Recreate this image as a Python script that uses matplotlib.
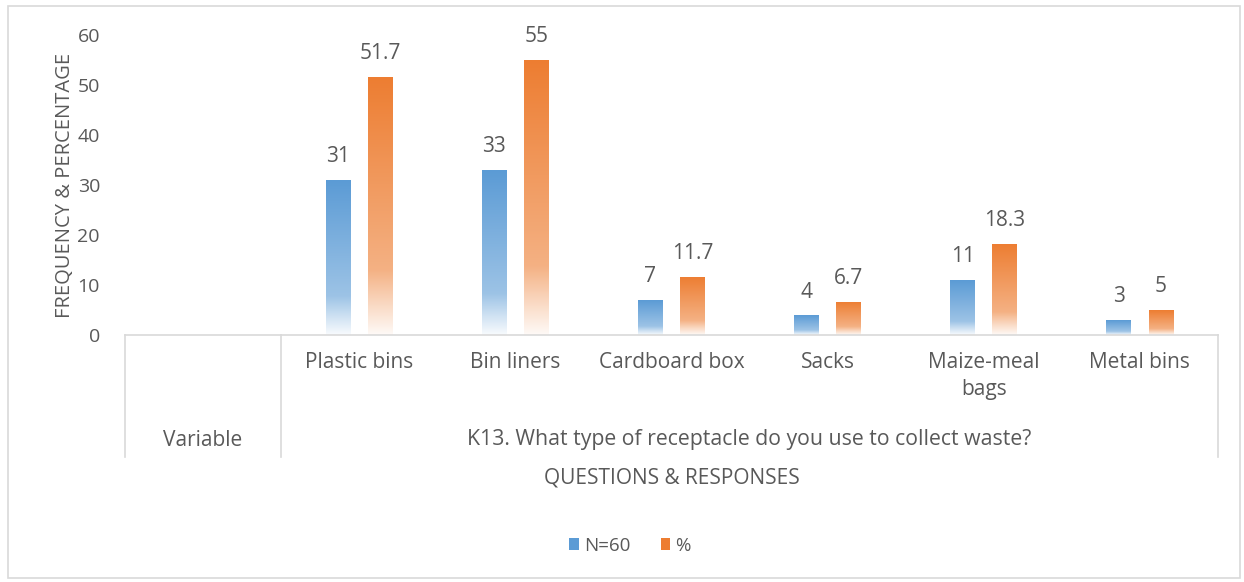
import numpy as np
import matplotlib
matplotlib.use("Agg")
import matplotlib.pyplot as plt
from matplotlib.colors import to_rgb, LinearSegmentedColormap
from matplotlib.patches import Rectangle, Patch

plt.rcParams['font.family'] = ['Open Sans', 'DejaVu Sans']

categories = ["Plastic bins", "Bin liners", "Cardboard box", "Sacks", "Maize-meal\nbags", "Metal bins"]
n_values = [31, 33, 7, 4, 11, 3]
pct_values = [51.7, 55, 11.7, 6.7, 18.3, 5]
labels_n = ["31", "33", "7", "4", "11", "3"]
labels_pct = ["51.7", "55", "11.7", "6.7", "18.3", "5"]
group_labels = ["Variable", "K13. What type of receptacle do you use to collect waste?"]
series_names = ["N=60", "%"]

blue = "#5b9bd5"
orange = "#ed7d31"
txt = "#595959"
line = "#d9d9d9"


def grad_cmap(c):
    r = np.array(to_rgb(c))
    w = np.ones(3)
    stops = [(0.0, 0.04), (0.12, 0.3), (0.25, 0.6), (1.0, 1.0)]
    return LinearSegmentedColormap.from_list(
        "g", [(p, tuple(w + (r - w) * m)) for p, m in stops])


fig = plt.figure(figsize=(12.44, 5.82), dpi=100)
fig.patches.append(Rectangle((8 / 1244, 4 / 582), 1232 / 1244, 572 / 582, transform=fig.transFigure,
                             fill=False, edgecolor=line, lw=1.2))
ax = fig.add_axes([125 / 1244, 247 / 582, 1093 / 1244, 300 / 582])

x = np.arange(1, len(categories) + 1)
w = 0.16
off = 0.135
grad = np.linspace(0, 1, 256).reshape(-1, 1)

for vals, labs, col, sgn in [(n_values, labels_n, blue, -1), (pct_values, labels_pct, orange, 1)]:
    bars = ax.bar(x + sgn * off, vals, width=w, color='none', edgecolor='none')
    cm = grad_cmap(col)
    for b, lab in zip(bars, labs):
        x0, h = b.get_x(), b.get_height()
        im = ax.imshow(grad, cmap=cm, origin='lower', aspect='auto',
                       extent=[x0, x0 + b.get_width(), 0, h], zorder=2)
        im.set_clip_path(b)
        ax.annotate(lab, (x0 + b.get_width() / 2, h), xytext=(0, 9), textcoords='offset points',
                    ha='center', va='bottom', fontsize=15, color=txt)

ax.set_xlim(-0.5, len(categories) + 0.5)
ax.set_ylim(0, 60)
ax.set_yticks(range(0, 61, 10))
ax.tick_params(axis='y', length=0, labelsize=14, labelcolor=txt, pad=18)
ax.set_xticks([])
for s in ['top', 'right', 'left']:
    ax.spines[s].set_visible(False)
ax.spines['bottom'].set_color(line)
ax.spines['bottom'].set_linewidth(1.2)
ax.set_ylabel("FREQUENCY & PERCENTAGE", fontsize=14.5, color=txt, labelpad=2)

tr = ax.get_xaxis_transform()
for xs in [-0.5, 0.5, len(categories) + 0.5]:
    ax.plot([xs, xs], [0, -0.407], transform=tr, color=line, lw=1.2, clip_on=False)
for xi, c in zip(x, categories):
    ax.text(xi, -0.055, c, transform=tr, ha='center', va='top', fontsize=15, color=txt,
            linespacing=1.4)
ax.text(0, -0.35, group_labels[0], transform=tr, ha='center', va='center', fontsize=15, color=txt)
ax.text((1 + len(categories)) / 2, -0.35, group_labels[1], transform=tr, ha='center', va='center',
        fontsize=15.3, color=txt)
ax.text(3.0, -0.477, "QUESTIONS & RESPONSES", transform=tr, ha='center', va='center',
        fontsize=15, color=txt)

handles = [Patch(facecolor=blue, edgecolor='none'), Patch(facecolor=orange, edgecolor='none')]
fig.legend(handles, series_names, loc='center', bbox_to_anchor=(630 / 1244, 1 - 546 / 582),
           ncol=2, frameon=False, fontsize=13.5, labelcolor=txt, handlelength=0.5, handleheight=0.6,
           handletextpad=0.3, columnspacing=1.6)

fig.savefig("out.png", dpi=100)
